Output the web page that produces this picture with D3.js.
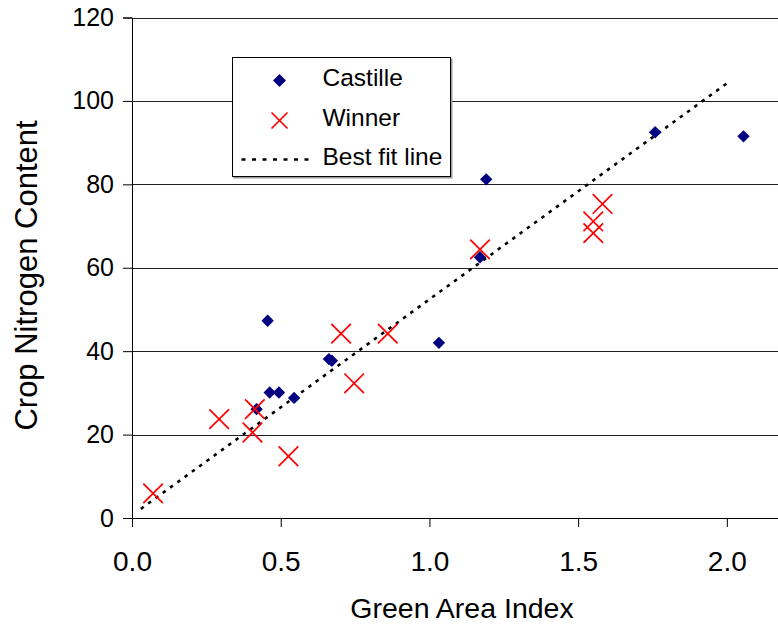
<!DOCTYPE html>
<html>
<head>
<meta charset="utf-8">
<script src="https://cdn.jsdelivr.net/npm/d3@7"></script>
<style>
  html, body { margin: 0; padding: 0; background: #fff; }
  svg { display: block; font-family: "Liberation Sans", Arial, sans-serif; }
</style>
</head>
<body>
<svg id="chart" width="778" height="625"></svg>
<script>
// Castille plots: green area index vs crop nitrogen content
const castilleGAI = [0.456, 0.662, 0.672, 0.463, 0.494, 0.545, 0.419, 1.191, 1.170, 1.032, 1.759, 2.056];
const castilleN   = [47.3, 38.1, 37.7, 30.1, 30.1, 28.8, 26.1, 81.2, 62.5, 42.0, 92.5, 91.5];

// Winner plots
const winnerGAI = [0.071, 0.293, 0.413, 0.405, 0.526, 0.703, 0.747, 0.860, 1.170, 1.582, 1.551, 1.551];
const winnerN   = [5.9, 23.7, 26.1, 20.5, 14.8, 44.2, 32.3, 44.2, 64.4, 75.3, 71.1, 68.3];

// Best fit line end points
const fitGAI = [0.03, 2.0];
const fitN   = [2.2, 104.2];

// Axis ticks
const xTicks = [0, 0.5, 1.0, 1.5, 2.0];
const yTicks = [0, 20, 40, 60, 80, 100, 120];

const seriesNames = ["Castille", "Winner", "Best fit line"];

const svg = d3.select("#chart");
const plotLeft = 132, plotRight = 778, plotTop = 17.5, plotBottom = 518;

const x = d3.scaleLinear().domain([0, 2.172]).range([plotLeft, plotRight]);
const y = d3.scaleLinear().domain([0, 120]).range([plotBottom, plotTop]);

// horizontal gridlines
svg.append("g")
  .selectAll("line")
  .data(yTicks.filter(d => d > 0))
  .join("line")
  .attr("x1", plotLeft).attr("x2", plotRight)
  .attr("y1", d => Math.round(y(d)) + 0.5).attr("y2", d => Math.round(y(d)) + 0.5)
  .attr("stroke", "#222").attr("stroke-width", 1);

// y axis
const yAxis = svg.append("g")
  .attr("transform", `translate(${plotLeft},0)`)
  .call(d3.axisLeft(y).tickValues(yTicks).tickFormat(d3.format("d")).tickSize(9).tickPadding(9));
yAxis.selectAll("text").attr("font-size", 25).attr("fill", "#000")
  .attr("font-family", "Liberation Sans, Arial, sans-serif");
yAxis.selectAll("line, path").attr("stroke", "#000");

// x axis
const xAxis = svg.append("g")
  .attr("transform", `translate(0,${plotBottom})`)
  .call(d3.axisBottom(x).tickValues(xTicks).tickFormat(d3.format(".1f")).tickSize(9).tickPadding(24));
xAxis.selectAll("text").attr("font-size", 28).attr("fill", "#000")
  .attr("font-family", "Liberation Sans, Arial, sans-serif");
xAxis.selectAll("line, path").attr("stroke", "#000");
xAxis.select(".domain").attr("d", `M${plotLeft},0.5H${plotRight}`);

// axis titles
svg.append("text")
  .attr("x", (349 + 575) / 2).attr("y", 618)
  .attr("text-anchor", "middle").attr("font-size", 28.5)
  .text("Green Area Index");

svg.append("text")
  .attr("transform", `translate(37,${(118 + 433) / 2}) rotate(-90)`)
  .attr("text-anchor", "middle").attr("font-size", 31)
  .text("Crop Nitrogen Content");

// best fit line
const line = d3.line().x(d => x(d[0])).y(d => y(d[1]));
svg.append("path")
  .attr("d", line(d3.zip(fitGAI, fitN)))
  .attr("fill", "none").attr("stroke", "#000")
  .attr("stroke-width", 2.6).attr("stroke-dasharray", "3.5,5.5");

// marker helpers
const diamond = (s) => `M0,${-s}L${s},0L0,${s}L${-s},0Z`;
function drawCross(g, h) {
  g.append("line").attr("x1", -h).attr("y1", -h).attr("x2", h).attr("y2", h);
  g.append("line").attr("x1", -h).attr("y1", h).attr("x2", h).attr("y2", -h);
  g.attr("stroke", "#ff0000").attr("stroke-width", 1.7);
}

// Castille diamonds
svg.append("g")
  .selectAll("path")
  .data(d3.zip(castilleGAI, castilleN))
  .join("path")
  .attr("transform", d => `translate(${x(d[0])},${y(d[1])})`)
  .attr("d", diamond(6.2))
  .attr("fill", "#000080");

// Winner crosses
svg.append("g")
  .selectAll("g")
  .data(d3.zip(winnerGAI, winnerN))
  .join("g")
  .attr("transform", d => `translate(${x(d[0])},${y(d[1])})`)
  .each(function () { drawCross(d3.select(this), 9.8); });

// legend
const lg = svg.append("g").attr("transform", "translate(232.5,57.5)");
lg.append("rect").attr("x", 1).attr("y", 1).attr("width", 219).attr("height", 120).attr("fill", "#999");
lg.append("rect").attr("width", 218).attr("height", 119).attr("fill", "#fff").attr("stroke", "#000");

lg.append("path").attr("d", diamond(6.5)).attr("transform", "translate(47,23)").attr("fill", "#000080");
drawCross(lg.append("g").attr("transform", "translate(47,63)"), 8);
lg.append("line").attr("x1", 9).attr("x2", 80).attr("y1", 102).attr("y2", 102)
  .attr("stroke", "#000").attr("stroke-width", 2.6).attr("stroke-dasharray", "4,6.5");

lg.selectAll("text.item")
  .data(seriesNames)
  .join("text")
  .attr("class", "item")
  .attr("x", 90).attr("y", (d, i) => 28.5 + i * 39.5)
  .attr("font-size", 24.5)
  .text(d => d);
</script>
</body>
</html>
